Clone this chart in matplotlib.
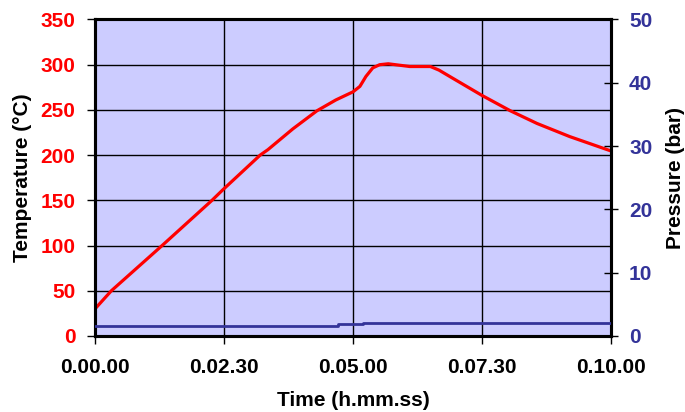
import matplotlib
matplotlib.use("Agg")
import matplotlib.pyplot as plt
import numpy as np

plt.rcParams['font.family'] = ['Liberation Sans', 'DejaVu Sans']
plt.rcParams['font.weight'] = 'bold'

# temperature curve, time in seconds
t_sec = [0, 19, 78, 136, 149, 192, 201, 230, 258, 280, 300, 308, 315, 323, 331, 341,
         366, 378, 390, 400, 416, 450, 483, 514, 552, 600]
temp = [30, 50, 100, 150, 162, 200, 206, 229, 249, 261, 270, 276, 287, 296.5, 300, 301,
        298, 298, 298, 294, 285, 266, 249, 235, 220.5, 204.6]

# pressure, bar
p_sec = [0, 283, 283, 312, 312, 600]
pres = [1.6, 1.6, 1.85, 1.85, 2.05, 2.05]

xticks = [0, 150, 300, 450, 600]
xlabels = ['0.00.00', '0.02.30', '0.05.00', '0.07.30', '0.10.00']

fs = 15

fig = plt.figure(figsize=(6.85, 4.12), dpi=100)
ax = fig.add_axes([0.1387, 0.1845, 0.892 - 0.1387, 0.9527 - 0.1845])
ax.set_facecolor('#CCCCFF')
ax.plot(t_sec, temp, color='#FF0000', lw=2.3, zorder=3)
ax.set_xlim(0, 600)
ax.set_ylim(0, 350)
ax.set_yticks(np.arange(0, 351, 50))
ax.set_xticks(xticks)
ax.set_xticklabels(xlabels)
ax.grid(True, color='black', lw=1.0)
ax.set_axisbelow(True)
ax.tick_params(axis='y', colors='black', labelcolor='#FF0000', labelsize=fs,
               length=6, width=1, direction='out', pad=8)
ax.tick_params(axis='x', labelsize=fs, length=6, width=1, direction='out', pad=10)
for s in ax.spines.values():
    s.set_linewidth(2.2)
ax.set_ylabel('Temperature (°C)', fontsize=fs, fontweight='bold', labelpad=6)
ax.set_xlabel('Time (h.mm.ss)', fontsize=fs, fontweight='bold', labelpad=10)

ax2 = ax.twinx()
ax2.plot(p_sec, pres, color='#333399', lw=2.0, zorder=3)
ax2.set_ylim(0, 50)
ax2.set_yticks(np.arange(0, 51, 10))
ax2.tick_params(axis='y', colors='black', labelcolor='#333399', labelsize=fs,
                length=10, width=1, direction='inout', pad=8)
ax2.set_ylabel('Pressure (bar)', fontsize=fs, fontweight='bold', labelpad=10)
for s in ax2.spines.values():
    s.set_linewidth(2.2)

fig.savefig('out.png', dpi=100)
